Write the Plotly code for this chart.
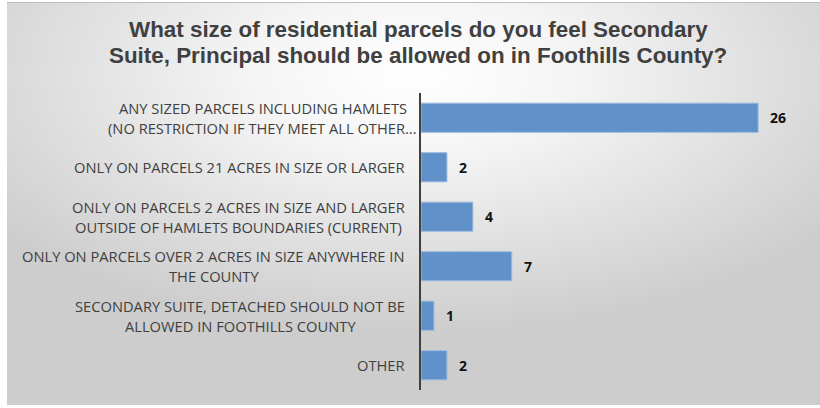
import base64
import plotly.graph_objects as go

categories = [
    "ANY SIZED PARCELS INCLUDING HAMLETS<br>(NO RESTRICTION IF THEY MEET ALL OTHER...",
    "ONLY ON PARCELS 21 ACRES IN SIZE OR LARGER",
    "ONLY ON PARCELS 2 ACRES IN SIZE AND LARGER<br>OUTSIDE OF HAMLETS BOUNDARIES (CURRENT)",
    "ONLY ON PARCELS OVER 2 ACRES IN SIZE ANYWHERE IN<br>THE COUNTY",
    "SECONDARY SUITE, DETACHED SHOULD NOT BE<br>ALLOWED IN FOOTHILLS COUNTY",
    "OTHER",
]
values = [26, 2, 4, 7, 1, 2]
title_lines = [
    "What size of residential parcels do you feel Secondary",
    "Suite, Principal should be allowed on in Foothills County?",
]

W, H = 820, 408
ML, MR, MT, MB = 421, 10, 93, 18
pw, ph = W - ML - MR, H - MT - MB

svg = (
    '<svg xmlns="http://www.w3.org/2000/svg" width="813" height="403" preserveAspectRatio="none">'
    '<defs><radialGradient id="g" cx="50%" cy="18%" r="64%" fx="50%" fy="18%">'
    '<stop offset="0%" stop-color="#ffffff"/>'
    '<stop offset="30%" stop-color="#f5f5f5"/>'
    '<stop offset="100%" stop-color="#cdcdcd"/>'
    '</radialGradient></defs>'
    '<rect width="813" height="403" fill="url(#g)"/>'
    '<rect width="813" height="1" fill="#bdbdbd"/>'
    '</svg>'
)
src = "data:image/svg+xml;base64," + base64.b64encode(svg.encode()).decode()


def px_x(p):
    return (p - ML) / pw


def px_y(p):
    return (H - MB - p) / ph


fig = go.Figure(go.Bar(
    x=values, y=list(range(len(categories))), orientation="h",
    marker=dict(color="#6191c9", line=dict(color="#9dbbe0", width=1)),
    width=0.59, hoverinfo="skip",
))

LABEL_FONT = dict(family="Open Sans", size=14.7, color="#404040")
PITCH = 20
anns = []
for i, (c, v) in enumerate(zip(categories, values)):
    lines = c.split("<br>")
    n = len(lines)
    # truncated labels (ending in "...") fill the label box up to the axis
    gap = 4 if lines[-1].endswith("...") else 16
    for k, ln in enumerate(lines):
        anns.append(dict(x=0, y=i, xref="x", yref="y", text=ln, showarrow=False,
                         xanchor="center", yanchor="middle",
                         xshift=-160, yshift=((n - 1) / 2 - k) * PITCH,
                         font=LABEL_FONT, name=f"lab{i}_{k}_{gap}"))
    anns.append(dict(x=v, y=i, xref="x", yref="y", text=str(v), showarrow=False,
                     xanchor="left", yanchor="middle", xshift=10,
                     font=dict(family="Open Sans", size=14, color="#111111", weight="bold")))

for k, t in enumerate(title_lines):
    anns.append(dict(x=px_x(418), y=px_y(30 + 25.5 * k), xref="paper", yref="paper",
                     text=t, showarrow=False, xanchor="center", yanchor="middle",
                     font=dict(family="Liberation Sans", size=22.4, color="#404040", weight="bold")))

fig.update_layout(
    width=W, height=H,
    margin=dict(l=ML, r=MR, t=MT, b=MB),
    paper_bgcolor="#ffffff", plot_bgcolor="rgba(0,0,0,0)",
    showlegend=False,
    xaxis=dict(range=[0, 30], visible=False, fixedrange=True),
    yaxis=dict(range=[5.5, -0.5], showticklabels=False, ticks="", showgrid=False,
               zeroline=False, showline=True, linecolor="#404040", linewidth=2,
               fixedrange=True),
    images=[dict(source=src, xref="paper", yref="paper",
                 x=px_x(7), y=px_y(2), sizex=813 / pw, sizey=403 / ph,
                 xanchor="left", yanchor="top", sizing="stretch", layer="below")],
    annotations=anns,
)

fig.write_html("out.html", config={"displayModeBar": False, "staticPlot": True},
               post_script="""
document.body.style.margin='0';
var gd=document.getElementsByClassName('plotly-graph-div')[0];
var anns=gd.layout.annotations, upd={}, groups={};
anns.forEach(function(a,j){ if(a.name && a.name.indexOf('lab')===0){
  var key=a.name.split('_')[0]; (groups[key]=groups[key]||[]).push(j);}});
var nodes=gd.querySelectorAll('g.annotation');
Object.keys(groups).forEach(function(key){
  var idx=groups[key], wmax=0;
  var gap=parseFloat(anns[idx[0]].name.split('_')[2]);
  idx.forEach(function(j){ var t=nodes[j].querySelector('text'); var w=t.getBBox().width; if(w>wmax) wmax=w;});
  idx.forEach(function(j){ upd['annotations['+j+'].xshift']=-gap-wmax/2; });
});
Plotly.relayout(gd, upd);
""")
